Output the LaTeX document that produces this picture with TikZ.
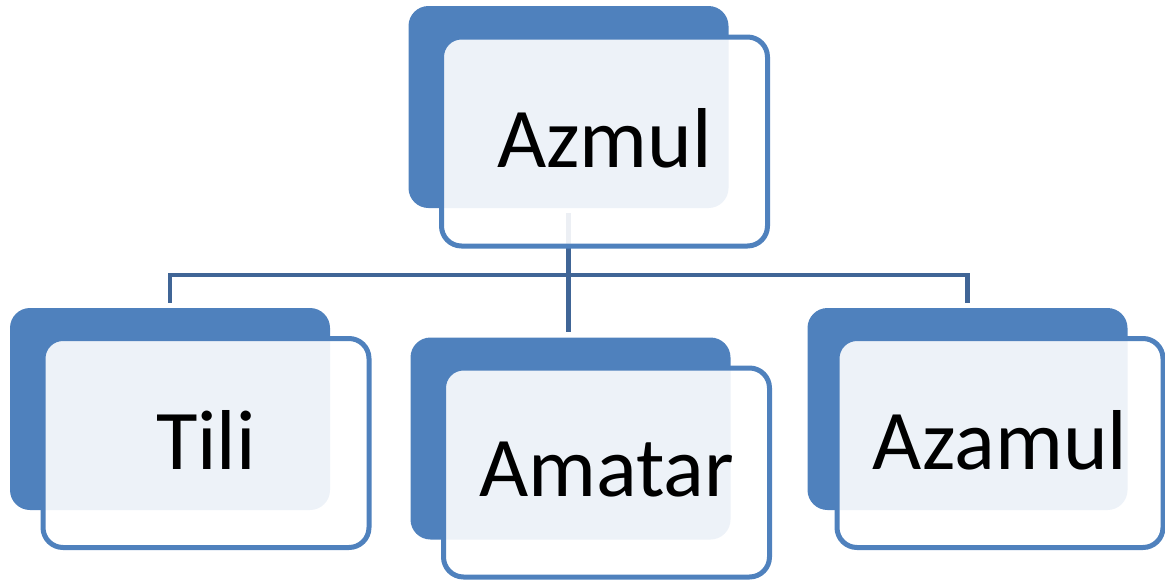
\documentclass[tikz,border=0pt]{standalone}
\usepackage{fontspec}
\setmainfont{Carlito}
\usetikzlibrary{backgrounds}
\definecolor{boxblue}{RGB}{79,129,189}
\definecolor{linkblue}{RGB}{64,101,150}
\tikzset{
  back/.style={rounded corners=20pt,fill=boxblue,inner sep=0pt,
    minimum width=320pt,minimum height=202pt},
  front/.style={rounded corners=20pt,draw=boxblue,line width=5pt,
    fill=white,fill opacity=0.9,text opacity=1,inner sep=0pt,text depth=7pt,
    minimum width=326pt,minimum height=209pt,font=\fontsize{85}{100}\selectfont},
  link/.style={draw=linkblue,line width=4.5pt,shorten >=5pt}
}
\begin{document}
\begin{tikzpicture}[x=1pt,y=-1pt]% org chart, one head and three below
        \useasboundingbox (0,0) rectangle (1165,579);
        \node[back] (azmulb) at (568.5,107) {};
        \node[front] (azmul) at (604.5,141.5) {Azmul};
        \node[back] (tilib) at (170,409) {};
        \node[front] (tili) at (206,443) {Tili};
        \node[back] (amatarb) at (570.5,438.5) {};
        \node[front] (amatar) at (606.5,472.5) {Amatar};
        \node[back] (azamulb) at (967.5,409) {};
        \node[front] (azamul) at (1000,443) {Azamul};
        \begin{scope}[on background layer]
                \draw[link,shorten <=5pt,shorten >=0pt] (azmulb.south) -- ++(0,67) coordinate (hub);
                \draw[link] (hub) -| (tilib.north);
                \draw[link] (hub) -| (azamulb.north);
                \draw[link] (hub) -- (hub |- amatarb.north);
        \end{scope}
\end{tikzpicture}
\end{document}
